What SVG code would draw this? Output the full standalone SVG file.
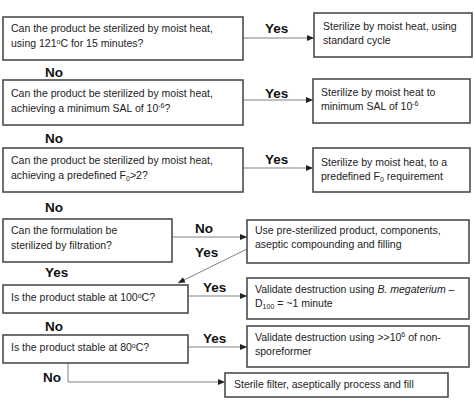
<svg xmlns="http://www.w3.org/2000/svg" width="474" height="407" viewBox="0 0 474 407">
<style>
.box{fill:#fff;stroke:#404040;stroke-width:1.5}
.t{font-family:"Liberation Sans",Arial,sans-serif;font-size:10.5px;fill:#222}
.lbl{font-family:"Liberation Sans",Arial,sans-serif;font-size:13.5px;font-weight:bold;fill:#111}
.c{stroke:#808080;stroke-width:1;fill:none}
.s{font-size:7px}
</style>
<defs>
<marker id="ah" markerWidth="8" markerHeight="8" refX="7" refY="4" orient="auto" markerUnits="userSpaceOnUse">
<path d="M0,1 L7,4 L0,7 Z" fill="#222"/>
</marker>
</defs>
<rect width="474" height="407" fill="#fff"/>
<g id="connectors">
<line class="c" x1="243" y1="38" x2="314" y2="38" marker-end="url(#ah)"/>
<line class="c" x1="243" y1="100" x2="313" y2="100" marker-end="url(#ah)"/>
<line class="c" x1="243" y1="168" x2="313" y2="168" marker-end="url(#ah)"/>
<line class="c" x1="172" y1="237" x2="247" y2="237" marker-end="url(#ah)"/>
<line class="c" x1="247" y1="249" x2="178" y2="283" marker-end="url(#ah)"/>
<line class="c" x1="188" y1="296" x2="247" y2="296" marker-end="url(#ah)"/>
<line class="c" x1="188" y1="347" x2="247" y2="347" marker-end="url(#ah)"/>
<polyline class="c" points="68,363 68,382 225,382" marker-end="url(#ah)"/>
<text class="lbl" x="265" y="33">Yes</text>
<text class="lbl" x="45" y="77">No</text>
<text class="lbl" x="265" y="98">Yes</text>
<text class="lbl" x="45" y="143">No</text>
<text class="lbl" x="265" y="164">Yes</text>
<text class="lbl" x="45" y="212">No</text>
<text class="lbl" x="195" y="233">No</text>
<text class="lbl" x="195" y="257">Yes</text>
<text class="lbl" x="45" y="277">Yes</text>
<text class="lbl" x="203" y="292">Yes</text>
<text class="lbl" x="45" y="331">No</text>
<text class="lbl" x="203" y="343">Yes</text>
<text class="lbl" x="43" y="382">No</text>
</g>
<g id="q1">
<rect class="box" x="3" y="17" width="240" height="43"/>
<text class="t" x="11" y="32">Can the product be sterilized by moist heat,</text>
<text class="t" x="11" y="47">using 121<tspan class="s" dy="-3">o</tspan><tspan dy="3">C for 15 minutes?</tspan></text>
</g>
<g id="a1">
<rect class="box" x="314" y="13" width="158" height="44"/>
<text class="t" x="323" y="30">Sterilize by moist heat, using</text>
<text class="t" x="323" y="44">standard cycle</text>
</g>
<g id="q2">
<rect class="box" x="3" y="80" width="240" height="45"/>
<text class="t" x="11" y="97">Can the product be sterilized by moist heat,</text>
<text class="t" x="11" y="112">achieving a minimum SAL of 10<tspan class="s" dy="-4">-6</tspan><tspan dy="4">?</tspan></text>
</g>
<g id="a2">
<rect class="box" x="313" y="79" width="157" height="44"/>
<text class="t" x="321" y="96">Sterilize by moist heat to</text>
<text class="t" x="321" y="110">minimum SAL of 10<tspan class="s" dy="-4">-6</tspan></text>
</g>
<g id="q3">
<rect class="box" x="3" y="148" width="240" height="44"/>
<text class="t" x="11" y="164">Can the product be sterilized by moist heat,</text>
<text class="t" x="11" y="179">achieving a predefined F<tspan class="s" dy="2">0</tspan><tspan dy="-2">&gt;2?</tspan></text>
</g>
<g id="a3">
<rect class="box" x="313" y="148" width="157" height="44"/>
<text class="t" x="321" y="166">Sterilize by moist heat, to a</text>
<text class="t" x="321" y="180">predefined F<tspan class="s" dy="2">0</tspan><tspan dy="-2"> requirement</tspan></text>
</g>
<g id="q4">
<rect class="box" x="3" y="219" width="169" height="43"/>
<text class="t" x="11" y="234">Can the formulation be</text>
<text class="t" x="11" y="249">sterilized by filtration?</text>
</g>
<g id="a4">
<rect class="box" x="247" y="220" width="222" height="43"/>
<text class="t" x="255" y="234">Use pre-sterilized product, components,</text>
<text class="t" x="255" y="248">aseptic compounding and filling</text>
</g>
<g id="q5">
<rect class="box" x="3" y="285" width="185" height="28"/>
<text class="t" x="11" y="301">Is the product stable at 100<tspan class="s" dy="-3">o</tspan><tspan dy="3">C?</tspan></text>
</g>
<g id="a5">
<rect class="box" x="247" y="278" width="222" height="41"/>
<text class="t" x="255" y="293">Validate destruction using <tspan font-style="italic">B. megaterium</tspan> –</text>
<text class="t" x="255" y="307">D<tspan class="s" dy="2">100</tspan><tspan dy="-2"> = ~1 minute</tspan></text>
</g>
<g id="q6">
<rect class="box" x="3" y="335" width="185" height="28"/>
<text class="t" x="11" y="351">Is the product stable at 80<tspan class="s" dy="-3">o</tspan><tspan dy="3">C?</tspan></text>
</g>
<g id="a6">
<rect class="box" x="247" y="326" width="222" height="41"/>
<text class="t" x="255" y="341">Validate destruction using &gt;&gt;10<tspan class="s" dy="-4">6</tspan><tspan dy="4"> of non-</tspan></text>
<text class="t" x="255" y="355">sporeformer</text>
</g>
<g id="a7">
<rect class="box" x="225" y="373" width="223" height="24"/>
<text class="t" x="234" y="388">Sterile filter, aseptically process and fill</text>
</g>
</svg>
